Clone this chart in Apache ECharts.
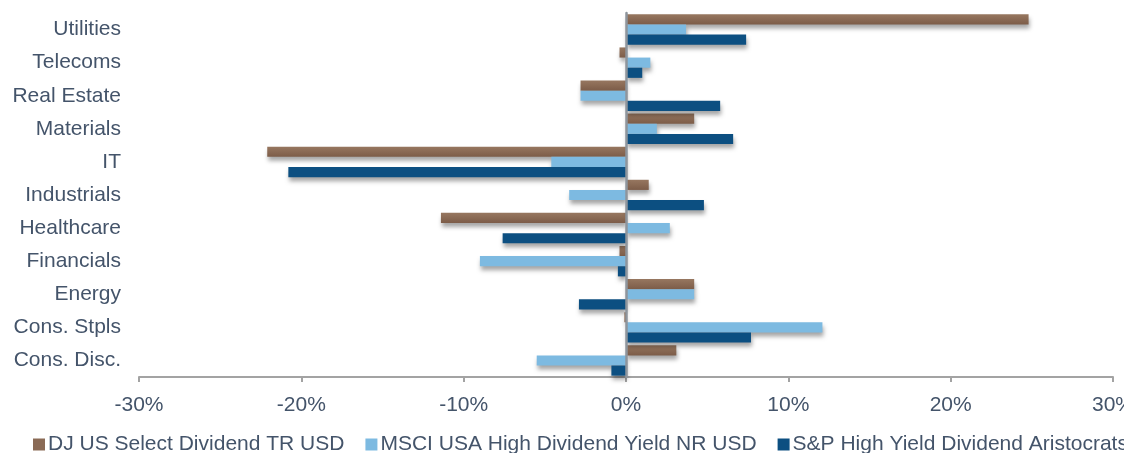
<!DOCTYPE html>
<html>
<head>
<meta charset="utf-8">
<script src="https://cdn.jsdelivr.net/npm/echarts@6/dist/echarts.min.js"></script>
<style>
  html, body { margin: 0; padding: 0; background: #fff; }
  #chart { width: 1124px; height: 453px; }
</style>
</head>
<body>
<div id="chart"></div>
<script>
var sectors = ['Cons. Disc.', 'Cons. Stpls', 'Energy', 'Financials', 'Healthcare',
               'Industrials', 'IT', 'Materials', 'Real Estate', 'Telecoms', 'Utilities'];
var seriesNames = ['DJ US Select Dividend TR USD',
                   'MSCI USA High Dividend Yield NR USD',
                   'S&P High Yield Dividend Aristocrats'];
// values in %, same order as sectors (bottom to top)
var djValues   = [3.1, -0.1, 4.2, -0.4, -11.4, 1.4, -22.1, 4.2, -2.8, -0.4, 24.8];
var msciValues = [-5.5, 12.1, 4.2, -9.0, 2.7, -3.5, -4.6, 1.9, -2.8, 1.5, 3.7];
var spValues   = [-0.9, 7.7, -2.9, -0.5, -7.6, 4.8, -20.8, 6.6, 5.8, 1.0, 7.4];
var xTicks = [-30, -20, -10, 0, 10, 20, 30];

(function () {
    var textColor = '#44546A';
    var font = 'Liberation Sans, Arial, sans-serif';

    var brown = new echarts.graphic.LinearGradient(0, 0, 0, 1, [
        { offset: 0, color: '#977760' },
        { offset: 1, color: '#7C5C48' }
    ]);
    var colors = [brown, '#7DBAE1', '#0C4F81'];
    var legendColors = ['#8A6A55', '#7DBAE1', '#0C4F81'];
    var dataSets = [djValues, msciValues, spValues];

    var series = dataSets.map(function (vals, i) {
        return {
            name: seriesNames[i],
            type: 'bar',
            data: vals,
            barGap: '0%',
            barCategoryGap: '8%',
            itemStyle: {
                color: colors[i],
                shadowColor: 'rgba(0,0,0,0.35)',
                shadowBlur: 4,
                shadowOffsetX: 1,
                shadowOffsetY: 4
            }
        };
    });

    var chart = echarts.init(document.getElementById('chart'));
    chart.setOption({
        animation: false,
        grid: { left: 139, right: 11, top: 13, bottom: 76, containLabel: false, outerBoundsMode: 'none' },
        legend: {
            data: seriesNames.map(function (n, i) {
                return { name: n, itemStyle: { color: legendColors[i] } };
            }),
            left: 28,
            top: 429,
            width: 2000,
            itemWidth: 12,
            itemHeight: 12,
            itemGap: 21,
            icon: 'rect',
            textStyle: { color: textColor, fontSize: 21, fontFamily: font, padding: [0, 0, 0, -2] }
        },
        xAxis: {
            type: 'value',
            min: -30,
            max: 30,
            interval: 10,
            axisLine: { show: true, lineStyle: { color: '#A3A3A3', width: 2 } },
            axisTick: { show: true, length: 5, lineStyle: { color: '#A3A3A3', width: 2 } },
            splitLine: { show: false },
            axisLabel: {
                color: textColor, fontSize: 21, fontFamily: font, margin: 18,
                formatter: function (v) { return xTicks.indexOf(v) >= 0 ? v + '%' : ''; }
            }
        },
        yAxis: {
            type: 'category',
            data: sectors,
            z: 3,
            axisLine: { show: true, onZero: true, lineStyle: { color: '#8E959C', width: 2.5 } },
            axisTick: { show: false },
            axisLabel: { color: textColor, fontSize: 21, fontFamily: font, margin: 18, padding: [4, 0, 0, 0] }
        },
        series: series
    });
})();
</script>
</body>
</html>
